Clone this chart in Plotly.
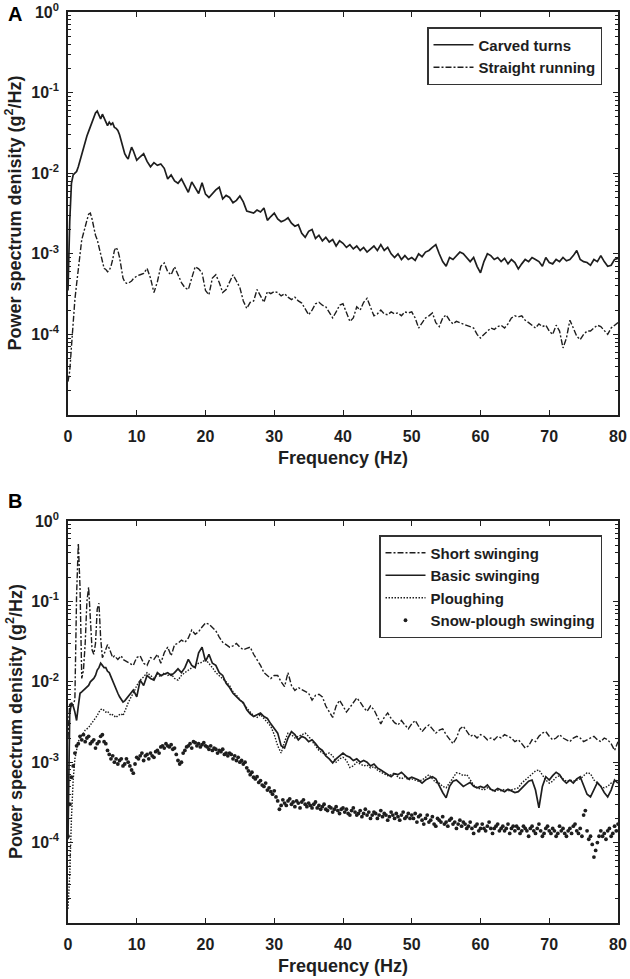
import plotly.graph_objects as go

# ---------------- data ----------------
# frequency grid of the line spectra (0.25 Hz up to 10 Hz, 0.5 Hz above)
F_LINE = [i * 0.25 for i in range(41)] + [10 + i * 0.5 for i in range(1, 141)]
# frequency grid of the dotted spectrum (0.25 Hz)
F_DOT = [i * 0.25 for i in range(321)]

# Panel A
CARVED = [
    3.5e-4, 2.5e-3, 7.5e-3, 9.5e-3, 1.0e-2, 1.05e-2, 1.2e-2, 1.45e-2, 1.75e-2, 2.0e-2,
    2.4e-2, 2.9e-2, 3.3e-2, 3.8e-2, 4.5e-2, 5.0e-2, 5.6e-2, 5.9e-2, 5.2e-2, 4.7e-2,
    5.4e-2, 4.8e-2, 4.2e-2, 3.9e-2, 4.3e-2, 4.0e-2, 4.2e-2, 3.7e-2, 3.6e-2, 3.4e-2,
    3.0e-2, 2.5e-2, 2.0e-2, 1.75e-2, 1.6e-2, 1.5e-2, 1.8e-2, 2.1e-2, 1.9e-2, 1.6e-2,
    1.45e-2,
    1.6e-2, 1.75e-2, 1.4e-2, 1.2e-2, 1.35e-2, 1.25e-2, 1.3e-2, 1.15e-2, 8.5e-3, 9.5e-3,
    8.0e-3, 7.5e-3, 8.5e-3, 7.0e-3, 5.8e-3, 7.8e-3, 6.5e-3, 5.6e-3, 7.6e-3, 5.5e-3,
    5.0e-3, 5.6e-3, 6.2e-3, 6.7e-3, 4.8e-3, 5.3e-3, 5.0e-3, 4.3e-3, 4.6e-3, 5.2e-3,
    4.4e-3, 3.4e-3, 3.3e-3, 3.2e-3, 3.5e-3, 3.3e-3, 3.7e-3, 2.6e-3, 2.9e-3, 3.2e-3,
    2.7e-3, 2.5e-3, 2.6e-3, 2.8e-3, 2.4e-3, 2.2e-3, 2.3e-3, 1.8e-3, 1.6e-3, 1.9e-3,
    2.0e-3, 1.55e-3, 1.7e-3, 1.45e-3, 1.6e-3, 1.4e-3, 1.5e-3, 1.25e-3, 1.45e-3, 1.35e-3,
    1.2e-3, 1.3e-3, 1.15e-3, 1.25e-3, 1.1e-3, 1.2e-3, 1.05e-3, 1.15e-3, 1.25e-3, 1.1e-3,
    1.3e-3, 1.1e-3, 1.2e-3, 1.0e-3, 9.0e-4, 1.0e-3, 8.5e-4, 9.5e-4, 8.5e-4, 9.0e-4,
    8.3e-4, 1.0e-3, 9.2e-4, 1.05e-3, 1.1e-3, 1.2e-3, 1.3e-3, 1.0e-3, 8.0e-4, 7.0e-4,
    9.0e-4, 8.5e-4, 9.5e-4, 1.05e-3, 1.0e-3, 9.0e-4, 8.0e-4, 9.0e-4, 7.0e-4, 5.8e-4,
    8.0e-4, 1.0e-3, 9.5e-4, 8.5e-4, 9.0e-4, 8.0e-4, 8.8e-4, 7.5e-4, 8.5e-4, 7.8e-4,
    6.5e-4, 7.5e-4, 8.5e-4, 8.0e-4, 9.0e-4, 8.5e-4, 8.0e-4, 7.0e-4, 9.0e-4, 7.8e-4,
    7.5e-4, 8.5e-4, 8.0e-4, 9.0e-4, 8.2e-4, 8.5e-4, 9.5e-4, 1.1e-3, 8.5e-4, 8.0e-4,
    7.8e-4, 7.2e-4, 8.5e-4, 8.0e-4, 9.5e-4, 8.0e-4, 7.0e-4, 7.2e-4, 8.5e-4, 8.8e-4,
]

STRAIGHT = [
    2.6e-5, 3.5e-5, 7.0e-5, 1.5e-4, 2.7e-4, 4.2e-4, 6.3e-4, 1.0e-3, 1.5e-3, 1.8e-3,
    2.1e-3, 2.6e-3, 3.1e-3, 3.2e-3, 2.7e-3, 2.1e-3, 1.7e-3, 1.5e-3, 1.2e-3, 9.5e-4,
    7.5e-4, 6.6e-4, 6.4e-4, 6.0e-4, 6.2e-4, 7.0e-4, 8.5e-4, 1.1e-3, 1.2e-3, 1.1e-3,
    9.0e-4, 6.5e-4, 5.0e-4, 4.5e-4, 4.3e-4, 4.3e-4, 4.4e-4, 4.6e-4, 4.9e-4, 5.1e-4,
    5.3e-4,
    5.5e-4, 5.7e-4, 6.6e-4, 5.0e-4, 3.3e-4, 4.5e-4, 7.0e-4, 7.7e-4, 6.0e-4, 5.5e-4,
    6.9e-4, 5.5e-4, 4.4e-4, 3.8e-4, 3.6e-4, 5.0e-4, 6.9e-4, 6.5e-4, 5.8e-4, 3.5e-4,
    3.1e-4, 5.0e-4, 5.5e-4, 4.4e-4, 3.3e-4, 3.6e-4, 4.5e-4, 5.5e-4, 4.6e-4, 3.8e-4,
    2.6e-4, 2.1e-4, 2.5e-4, 2.6e-4, 3.6e-4, 3.0e-4, 2.5e-4, 3.4e-4, 3.2e-4, 3.4e-4,
    3.3e-4, 3.0e-4, 3.2e-4, 2.9e-4, 2.7e-4, 2.9e-4, 2.6e-4, 2.45e-4, 2.1e-4, 1.75e-4,
    2.0e-4, 2.4e-4, 2.5e-4, 2.3e-4, 2.2e-4, 1.9e-4, 1.6e-4, 1.9e-4, 2.3e-4, 2.4e-4,
    1.9e-4, 1.45e-4, 1.6e-4, 2.2e-4, 2.0e-4, 2.5e-4, 2.8e-4, 2.2e-4, 1.7e-4, 1.8e-4,
    2.0e-4, 1.8e-4, 1.75e-4, 1.9e-4, 1.8e-4, 1.85e-4, 1.7e-4, 1.9e-4, 1.85e-4, 1.9e-4,
    1.6e-4, 1.2e-4, 1.4e-4, 1.6e-4, 1.7e-4, 1.85e-4, 1.4e-4, 1.25e-4, 1.6e-4, 1.75e-4,
    1.5e-4, 1.35e-4, 1.45e-4, 1.4e-4, 1.35e-4, 1.3e-4, 1.25e-4, 1.2e-4, 1.0e-4, 9.0e-5,
    1.0e-4, 1.1e-4, 1.2e-4, 1.15e-4, 1.25e-4, 1.3e-4, 1.2e-4, 1.35e-4, 1.6e-4, 1.7e-4,
    1.65e-4, 1.7e-4, 1.5e-4, 1.4e-4, 1.3e-4, 1.2e-4, 1.35e-4, 1.25e-4, 1.3e-4, 1.1e-4,
    1.0e-4, 1.3e-4, 1.1e-4, 6.8e-5, 9.0e-5, 1.5e-4, 1.2e-4, 9.5e-5, 8.6e-5, 1.0e-4,
    1.1e-4, 1.1e-4, 1.2e-4, 1.3e-4, 1.25e-4, 1.1e-4, 1.0e-4, 1.2e-4, 1.3e-4, 1.4e-4,
]

# Panel B
SHORT = [
    2.0e-3, 5.5e-3, 5.0e-3, 5.2e-3, 6.0e-3, 0.12, 0.53, 0.15, 1.1e-2, 1.4e-2,
    3.0e-2, 0.10, 0.15, 0.06, 2.5e-2, 2.2e-2, 3.0e-2, 8.0e-2, 9.5e-2, 3.5e-2,
    2.0e-2, 2.2e-2, 2.6e-2, 2.9e-2, 2.6e-2, 2.2e-2, 2.0e-2, 2.1e-2, 2.0e-2, 1.9e-2,
    2.0e-2, 2.1e-2, 1.9e-2, 1.85e-2, 1.8e-2, 1.75e-2, 1.7e-2, 1.65e-2, 1.6e-2, 1.8e-2,
    2.0e-2,
    2.1e-2, 1.7e-2, 1.6e-2, 2.0e-2, 1.9e-2, 2.2e-2, 1.7e-2, 2.3e-2, 2.7e-2, 2.1e-2,
    2.9e-2, 3.0e-2, 3.3e-2, 3.1e-2, 3.5e-2, 4.4e-2, 3.9e-2, 4.2e-2, 4.8e-2, 5.4e-2,
    5.2e-2, 4.7e-2, 4.3e-2, 3.6e-2, 3.1e-2, 2.9e-2, 2.7e-2, 2.8e-2, 3.0e-2, 2.7e-2,
    2.5e-2, 2.6e-2, 2.7e-2, 2.2e-2, 1.9e-2, 1.6e-2, 1.3e-2, 1.2e-2, 1.1e-2, 1.2e-2,
    1.2e-2, 1.0e-2, 8.7e-3, 1.3e-2, 9.0e-3, 7.8e-3, 8.5e-3, 8.0e-3, 7.5e-3, 7.2e-3,
    5.9e-3, 6.8e-3, 7.0e-3, 6.5e-3, 5.0e-3, 4.2e-3, 3.6e-3, 5.0e-3, 5.9e-3, 5.0e-3,
    4.2e-3, 4.8e-3, 5.5e-3, 6.3e-3, 5.6e-3, 4.8e-3, 4.3e-3, 5.0e-3, 4.5e-3, 3.6e-3,
    3.0e-3, 3.6e-3, 4.1e-3, 3.5e-3, 3.1e-3, 2.9e-3, 3.3e-3, 2.9e-3, 2.6e-3, 3.0e-3,
    3.3e-3, 2.8e-3, 2.4e-3, 2.7e-3, 2.9e-3, 2.6e-3, 2.3e-3, 2.5e-3, 2.6e-3, 2.2e-3,
    1.9e-3, 1.7e-3, 2.0e-3, 2.6e-3, 2.8e-3, 2.4e-3, 2.1e-3, 2.2e-3, 2.0e-3, 2.2e-3,
    2.1e-3, 1.9e-3, 2.0e-3, 1.9e-3, 2.1e-3, 2.0e-3, 2.2e-3, 2.1e-3, 2.0e-3, 1.8e-3,
    1.9e-3, 1.7e-3, 1.5e-3, 1.6e-3, 1.9e-3, 1.8e-3, 2.1e-3, 2.3e-3, 2.4e-3, 2.1e-3,
    1.9e-3, 2.0e-3, 2.2e-3, 2.0e-3, 1.9e-3, 1.8e-3, 2.0e-3, 2.1e-3, 2.0e-3, 1.8e-3,
    1.9e-3, 2.0e-3, 2.1e-3, 1.9e-3, 1.8e-3, 2.0e-3, 1.9e-3, 1.7e-3, 1.4e-3, 1.8e-3,
]

BASIC = [
    1.1e-4, 4.0e-3, 5.5e-3, 5.0e-3, 4.2e-3, 3.3e-3, 5.0e-3, 7.2e-3, 7.5e-3, 7.8e-3,
    8.2e-3, 8.6e-3, 9.0e-3, 1.0e-2, 1.05e-2, 1.1e-2, 1.2e-2, 1.4e-2, 1.5e-2, 1.7e-2,
    1.6e-2, 1.5e-2, 1.5e-2, 1.35e-2, 1.3e-2, 1.15e-2, 1.0e-2, 9.0e-3, 8.0e-3, 7.2e-3,
    6.5e-3, 6.0e-3, 5.6e-3, 5.8e-3, 6.2e-3, 6.5e-3, 7.0e-3, 7.5e-3, 7.9e-3, 7.2e-3,
    6.5e-3,
    1.05e-2, 9.0e-3, 1.2e-2, 1.1e-2, 1.05e-2, 1.3e-2, 1.2e-2, 1.25e-2, 1.3e-2, 1.2e-2,
    1.3e-2, 1.45e-2, 1.3e-2, 1.5e-2, 1.9e-2, 1.6e-2, 1.5e-2, 2.3e-2, 2.7e-2, 1.8e-2,
    2.2e-2, 1.7e-2, 1.6e-2, 1.3e-2, 1.2e-2, 9.6e-3, 8.5e-3, 7.2e-3, 6.5e-3, 5.9e-3,
    5.5e-3, 4.5e-3, 4.0e-3, 3.7e-3, 3.9e-3, 4.1e-3, 3.7e-3, 3.5e-3, 3.0e-3, 2.6e-3,
    2.3e-3, 1.6e-3, 1.5e-3, 2.0e-3, 2.4e-3, 2.2e-3, 1.9e-3, 2.1e-3, 2.0e-3, 1.8e-3,
    1.9e-3, 1.7e-3, 1.5e-3, 1.4e-3, 1.2e-3, 1.1e-3, 9.8e-4, 1.1e-3, 1.2e-3, 1.3e-3,
    1.2e-3, 1.15e-3, 1.05e-3, 1.1e-3, 1.0e-3, 1.05e-3, 1.0e-3, 9.0e-4, 9.5e-4, 8.5e-4,
    8.0e-4, 7.5e-4, 7.0e-4, 6.6e-4, 7.2e-4, 7.0e-4, 7.5e-4, 6.8e-4, 6.2e-4, 6.5e-4,
    6.2e-4, 6.0e-4, 5.5e-4, 6.0e-4, 6.3e-4, 6.6e-4, 6.2e-4, 5.0e-4, 4.2e-4, 3.6e-4,
    5.0e-4, 5.8e-4, 6.0e-4, 5.5e-4, 5.0e-4, 5.3e-4, 5.6e-4, 5.0e-4, 4.8e-4, 5.0e-4,
    4.8e-4, 5.2e-4, 4.6e-4, 4.4e-4, 4.7e-4, 4.5e-4, 4.3e-4, 4.6e-4, 4.4e-4, 4.2e-4,
    4.3e-4, 4.8e-4, 5.2e-4, 5.8e-4, 6.0e-4, 4.5e-4, 2.7e-4, 5.0e-4, 6.6e-4, 6.0e-4,
    6.8e-4, 7.5e-4, 7.0e-4, 6.0e-4, 5.5e-4, 6.0e-4, 5.5e-4, 6.2e-4, 6.6e-4, 5.0e-4,
    4.0e-4, 3.7e-4, 4.5e-4, 5.6e-4, 5.0e-4, 4.2e-4, 3.7e-4, 4.5e-4, 6.0e-4, 5.5e-4,
]

PLOUGH = [
    1.5e-5, 4.0e-5, 2.0e-4, 6.0e-4, 1.1e-3, 1.5e-3, 1.8e-3, 2.0e-3, 2.2e-3, 2.3e-3,
    2.5e-3, 2.6e-3, 2.7e-3, 2.9e-3, 3.1e-3, 3.3e-3, 3.5e-3, 3.8e-3, 4.2e-3, 4.5e-3,
    4.6e-3, 4.4e-3, 4.2e-3, 4.3e-3, 4.0e-3, 3.8e-3, 3.9e-3, 3.7e-3, 3.6e-3, 3.8e-3,
    3.9e-3, 4.0e-3, 3.8e-3, 4.2e-3, 4.8e-3, 5.5e-3, 6.0e-3, 6.8e-3, 7.2e-3, 8.0e-3,
    9.0e-3,
    1.05e-2, 1.15e-2, 1.3e-2, 1.2e-2, 1.1e-2, 1.25e-2, 1.15e-2, 1.3e-2, 1.2e-2, 1.25e-2,
    1.1e-2, 1.05e-2, 1.2e-2, 1.3e-2, 1.4e-2, 1.5e-2, 1.6e-2, 1.7e-2, 1.75e-2, 1.9e-2,
    1.7e-2, 1.5e-2, 1.3e-2, 1.2e-2, 1.1e-2, 1.0e-2, 9.0e-3, 7.5e-3, 6.8e-3, 6.0e-3,
    5.3e-3, 4.8e-3, 4.2e-3, 3.8e-3, 3.6e-3, 3.9e-3, 3.5e-3, 3.2e-3, 2.8e-3, 2.2e-3,
    1.6e-3, 1.3e-3, 1.8e-3, 2.3e-3, 2.2e-3, 2.0e-3, 2.1e-3, 2.2e-3, 2.3e-3, 2.1e-3,
    1.8e-3, 1.6e-3, 1.4e-3, 1.3e-3, 1.25e-3, 1.3e-3, 1.2e-3, 1.0e-3, 1.1e-3, 1.15e-3,
    1.05e-3, 8.6e-4, 9.0e-4, 1.0e-3, 9.5e-4, 9.0e-4, 9.2e-4, 8.5e-4, 8.8e-4, 8.0e-4,
    7.5e-4, 7.2e-4, 6.8e-4, 7.0e-4, 7.4e-4, 6.5e-4, 6.2e-4, 6.6e-4, 6.0e-4, 6.2e-4,
    6.0e-4, 5.8e-4, 6.0e-4, 6.5e-4, 7.0e-4, 6.2e-4, 5.6e-4, 5.5e-4, 5.0e-4, 4.8e-4,
    5.5e-4, 6.5e-4, 7.4e-4, 7.2e-4, 6.8e-4, 7.0e-4, 6.0e-4, 5.2e-4, 4.8e-4, 4.6e-4,
    4.5e-4, 4.8e-4, 4.6e-4, 4.3e-4, 4.5e-4, 4.4e-4, 4.6e-4, 4.4e-4, 4.5e-4, 4.6e-4,
    4.8e-4, 5.5e-4, 6.0e-4, 6.5e-4, 7.0e-4, 7.8e-4, 8.0e-4, 7.0e-4, 6.0e-4, 5.5e-4,
    5.8e-4, 6.5e-4, 6.8e-4, 6.2e-4, 5.8e-4, 6.0e-4, 5.8e-4, 6.0e-4, 6.2e-4, 6.8e-4,
    7.4e-4, 7.2e-4, 6.0e-4, 5.5e-4, 5.0e-4, 4.8e-4, 5.0e-4, 5.5e-4, 5.8e-4, 6.0e-4,
]

SNOW = [
    1.2e-4, 3.0e-4, 6.5e-4, 9.0e-4, 1.3e-3, 1.6e-3, 1.7e-3, 2.1e-3, 1.9e-3, 2.2e-3,
    1.8e-3, 2.0e-3, 2.1e-3, 1.7e-3, 1.8e-3, 1.9e-3, 1.5e-3, 1.7e-3, 1.8e-3, 2.1e-3,
    2.2e-3, 1.8e-3, 1.7e-3, 1.4e-3, 1.25e-3, 1.1e-3, 1.2e-3, 1.0e-3, 1.1e-3, 9.5e-4,
    1.05e-3, 1.1e-3, 9.0e-4, 9.5e-4, 1.1e-3, 1.0e-3, 9.0e-4, 8.0e-4, 7.3e-4, 9.5e-4,
    1.15e-3,
    1.1e-3, 1.2e-3, 1.3e-3, 1.05e-3, 1.2e-3, 1.25e-3, 1.1e-3, 1.3e-3, 1.2e-3, 1.15e-3,
    1.35e-3, 1.4e-3, 1.3e-3, 1.55e-3, 1.6e-3, 1.5e-3, 1.7e-3, 1.6e-3, 1.55e-3, 1.65e-3,
    1.45e-3, 1.5e-3, 1.25e-3, 1.05e-3, 9.5e-4, 1.0e-3, 1.3e-3, 1.4e-3, 1.55e-3, 1.6e-3,
    1.7e-3, 1.5e-3, 1.8e-3, 1.75e-3, 1.6e-3, 1.7e-3, 1.55e-3, 1.65e-3, 1.75e-3, 1.6e-3,
    1.55e-3, 1.45e-3, 1.6e-3, 1.4e-3, 1.5e-3, 1.45e-3, 1.3e-3, 1.4e-3, 1.35e-3, 1.45e-3,
    1.25e-3, 1.3e-3, 1.2e-3, 1.3e-3, 1.25e-3, 1.1e-3, 1.2e-3, 1.05e-3, 1.15e-3, 1.0e-3,
    1.05e-3, 9.5e-4, 1.0e-3, 8.5e-4, 7.8e-4, 7.0e-4, 7.5e-4, 6.5e-4, 6.2e-4, 6.6e-4,
    5.6e-4, 5.9e-4, 5.2e-4, 5.0e-4, 5.5e-4, 4.5e-4, 4.8e-4, 4.3e-4, 4.0e-4, 4.4e-4,
    3.7e-4, 3.3e-4, 2.6e-4, 2.9e-4, 3.4e-4, 3.1e-4, 2.9e-4, 3.3e-4, 3.5e-4, 3.0e-4,
    3.2e-4, 2.8e-4, 3.3e-4, 3.1e-4, 2.7e-4, 3.2e-4, 3.4e-4, 3.0e-4, 2.8e-4, 3.1e-4,
    2.9e-4, 2.7e-4, 3.0e-4, 3.2e-4, 2.7e-4, 2.9e-4, 2.6e-4, 2.8e-4, 3.0e-4, 2.6e-4,
    2.5e-4, 2.8e-4, 2.7e-4, 2.4e-4, 2.6e-4, 2.8e-4, 2.5e-4, 2.3e-4, 2.6e-4, 2.7e-4,
    2.4e-4, 2.6e-4, 2.3e-4, 2.2e-4, 2.5e-4, 2.7e-4, 2.4e-4, 2.2e-4, 2.3e-4, 2.5e-4,
    2.1e-4, 2.3e-4, 2.6e-4, 2.2e-4, 2.4e-4, 2.0e-4, 2.2e-4, 2.4e-4, 2.3e-4, 2.0e-4,
    2.2e-4, 2.5e-4, 2.1e-4, 2.3e-4, 2.2e-4, 1.9e-4, 2.1e-4, 2.4e-4, 2.2e-4, 2.0e-4,
    2.3e-4, 2.1e-4, 1.9e-4, 2.2e-4, 2.4e-4, 2.0e-4, 2.1e-4, 2.3e-4, 2.0e-4, 2.2e-4,
    2.0e-4, 2.3e-4, 1.8e-4, 2.1e-4, 2.2e-4, 1.9e-4, 1.7e-4, 2.0e-4, 2.2e-4, 1.8e-4,
    1.9e-4, 2.1e-4, 1.7e-4, 1.6e-4, 2.0e-4, 1.9e-4, 1.8e-4, 2.1e-4, 1.7e-4, 1.8e-4,
    1.6e-4, 1.9e-4, 2.0e-4, 1.7e-4, 1.8e-4, 1.5e-4, 1.7e-4, 1.9e-4, 1.6e-4, 1.8e-4,
    1.7e-4, 1.5e-4, 1.6e-4, 1.8e-4, 1.5e-4, 1.3e-4, 1.6e-4, 1.7e-4, 1.4e-4, 1.5e-4,
    1.7e-4, 1.5e-4, 1.4e-4, 1.6e-4, 1.8e-4, 1.5e-4, 1.3e-4, 1.5e-4, 1.6e-4, 1.7e-4,
    1.4e-4, 1.5e-4, 1.6e-4, 1.4e-4, 1.5e-4, 1.7e-4, 1.3e-4, 1.5e-4, 1.6e-4, 1.4e-4,
    1.6e-4, 1.5e-4, 1.3e-4, 1.4e-4, 1.6e-4, 1.5e-4, 1.4e-4, 1.2e-4, 1.5e-4, 1.6e-4,
    1.4e-4, 1.3e-4, 1.5e-4, 1.7e-4, 1.4e-4, 1.2e-4, 1.3e-4, 1.5e-4, 1.6e-4, 1.4e-4,
    1.3e-4, 1.5e-4, 1.4e-4, 1.2e-4, 1.3e-4, 1.6e-4, 1.4e-4, 1.5e-4, 1.3e-4, 1.2e-4,
    1.4e-4, 1.5e-4, 1.3e-4, 1.6e-4, 1.7e-4, 1.4e-4, 1.3e-4, 1.5e-4, 1.2e-4, 2.2e-4,
    2.5e-4, 1.4e-4, 1.1e-4, 1.2e-4, 9.5e-5, 6.6e-5, 8.0e-5, 1.0e-4, 1.2e-4, 1.4e-4,
    1.2e-4, 1.3e-4, 1.1e-4, 1.4e-4, 1.5e-4, 1.2e-4, 1.3e-4, 1.6e-4, 1.4e-4, 1.7e-4,
]

NAMES_A = ["Carved turns", "Straight running"]
NAMES_B = ["Short swinging", "Basic swinging", "Ploughing", "Snow-plough swinging"]
X_TICKS = [0, 10, 20, 30, 40, 50, 60, 70, 80]
Y_TICKVALS = [1, 0.1, 0.01, 0.001, 0.0001]
Y_TICKTEXT = ["10<sup>0</sup>", "10<sup>-1</sup>", "10<sup>-2</sup>",
              "10<sup>-3</sup>", "10<sup>-4</sup>"]
PANEL_LABELS = ["A", "B"]
X_TITLE = "Frequency (Hz)"
Y_TITLE = "Power spectrum denisity (g<sup>2</sup>/Hz)"

assert len(F_LINE) == len(CARVED) == len(STRAIGHT) == len(SHORT) == len(BASIC) == len(PLOUGH)
assert len(F_DOT) == len(SNOW)

# ---------------- figure ----------------
FONT = "Liberation Sans, Arial, Helvetica, sans-serif"
INK = "#1e1e1e"
W, H = 630, 979


def px_x(p):
    return p / W


def px_y(p):
    return 1 - p / H


fig = go.Figure()

fig.add_trace(go.Scatter(x=F_LINE, y=CARVED, name=NAMES_A[0], mode="lines",
                         line=dict(color=INK, width=1.7),
                         xaxis="x", yaxis="y", legend="legend"))
fig.add_trace(go.Scatter(x=F_LINE, y=STRAIGHT, name=NAMES_A[1], mode="lines",
                         line=dict(color=INK, width=1.4, dash="6px,2px,2px,2px"),
                         xaxis="x", yaxis="y", legend="legend"))

fig.add_trace(go.Scatter(x=F_LINE, y=SHORT, name=NAMES_B[0], mode="lines",
                         line=dict(color=INK, width=1.4, dash="6px,2px,2px,2px"),
                         xaxis="x2", yaxis="y2", legend="legend2"))
fig.add_trace(go.Scatter(x=F_LINE, y=BASIC, name=NAMES_B[1], mode="lines",
                         line=dict(color=INK, width=1.7),
                         xaxis="x2", yaxis="y2", legend="legend2"))
fig.add_trace(go.Scatter(x=F_LINE, y=PLOUGH, name=NAMES_B[2], mode="lines",
                         line=dict(color=INK, width=1.4, dash="1.5px,1.5px"),
                         xaxis="x2", yaxis="y2", legend="legend2"))
fig.add_trace(go.Scatter(x=F_DOT, y=SNOW, name=NAMES_B[3], mode="markers",
                         marker=dict(color=INK, size=3.8, symbol="circle"),
                         xaxis="x2", yaxis="y2", legend="legend2"))

tickfont = dict(family=FONT, size=16, color=INK, weight="bold")
minor_vals = [m * 10.0 ** e for e in range(-5, 0) for m in range(2, 10)]

xcommon = dict(range=[0, 80], tickmode="array", tickvals=X_TICKS, ticks="inside",
               ticklen=5, tickwidth=1.3, tickcolor=INK, showline=True, linecolor=INK,
               linewidth=1.6, mirror="ticks", showgrid=False, zeroline=False,
               tickfont=tickfont, domain=[px_x(68), px_x(618)], ticklabelstandoff=6,
               automargin=False)
ycommon = dict(type="log", range=[-5, 0], tickmode="array", tickvals=Y_TICKVALS,
               ticktext=Y_TICKTEXT, ticks="inside", ticklen=5, tickwidth=1.3,
               tickcolor=INK, showline=True, linecolor=INK, linewidth=1.6,
               mirror="ticks", showgrid=False, zeroline=False, tickfont=tickfont,
               ticklabelstandoff=4, automargin=False,
               minor=dict(tickmode="array", tickvals=minor_vals, ticks="inside",
                          ticklen=3, tickwidth=1, tickcolor=INK, showgrid=False))

legend_common = dict(bgcolor="white", bordercolor="#333", borderwidth=1.5,
                     font=dict(family=FONT, size=15, color=INK, weight="bold"),
                     tracegroupgap=0, itemwidth=40, xanchor="right", yanchor="top")

fig.update_layout(
    template="none",
    width=W, height=H,
    margin=dict(l=0, r=0, t=0, b=0, pad=0, autoexpand=False),
    paper_bgcolor="white", plot_bgcolor="white",
    font=dict(family=FONT, color=INK),
    xaxis=dict(**xcommon, anchor="y"),
    yaxis=dict(**ycommon, anchor="x", domain=[px_y(415), px_y(12)]),
    xaxis2=dict(**xcommon, anchor="y2"),
    yaxis2=dict(**ycommon, anchor="x2", domain=[px_y(923), px_y(521)]),
    legend=dict(x=px_x(602), y=px_y(27), **legend_common),
    legend2=dict(x=px_x(602), y=px_y(535), **legend_common),
    showlegend=True,
)

annotations = []
for lab, yc in zip(PANEL_LABELS, [13.5, 501.5]):
    annotations.append(dict(text="<b>%s</b>" % lab, x=px_x(14.5), y=px_y(yc),
                            xref="paper", yref="paper", showarrow=False,
                            xanchor="center", yanchor="middle",
                            font=dict(family=FONT, size=20, color="black")))
for yc in [458, 966]:
    annotations.append(dict(text="<b>%s</b>" % X_TITLE, x=px_x(343), y=px_y(yc),
                            xref="paper", yref="paper", showarrow=False,
                            xanchor="center", yanchor="middle",
                            font=dict(family=FONT, size=18, color=INK)))
for yc in [213.5, 722]:
    annotations.append(dict(text="<b>%s</b>" % Y_TITLE, x=px_x(14), y=px_y(yc),
                            xref="paper", yref="paper", showarrow=False,
                            textangle=-90, xanchor="center", yanchor="middle",
                            font=dict(family=FONT, size=18, color=INK)))
fig.update_layout(annotations=annotations)

# remove the default 8px page margin so the 630x979 figure fills the window exactly
fig.write_html("out.html",
               config={"displayModeBar": False},
               post_script="document.body.style.margin='0px';"
                           "document.body.style.overflow='hidden';")
